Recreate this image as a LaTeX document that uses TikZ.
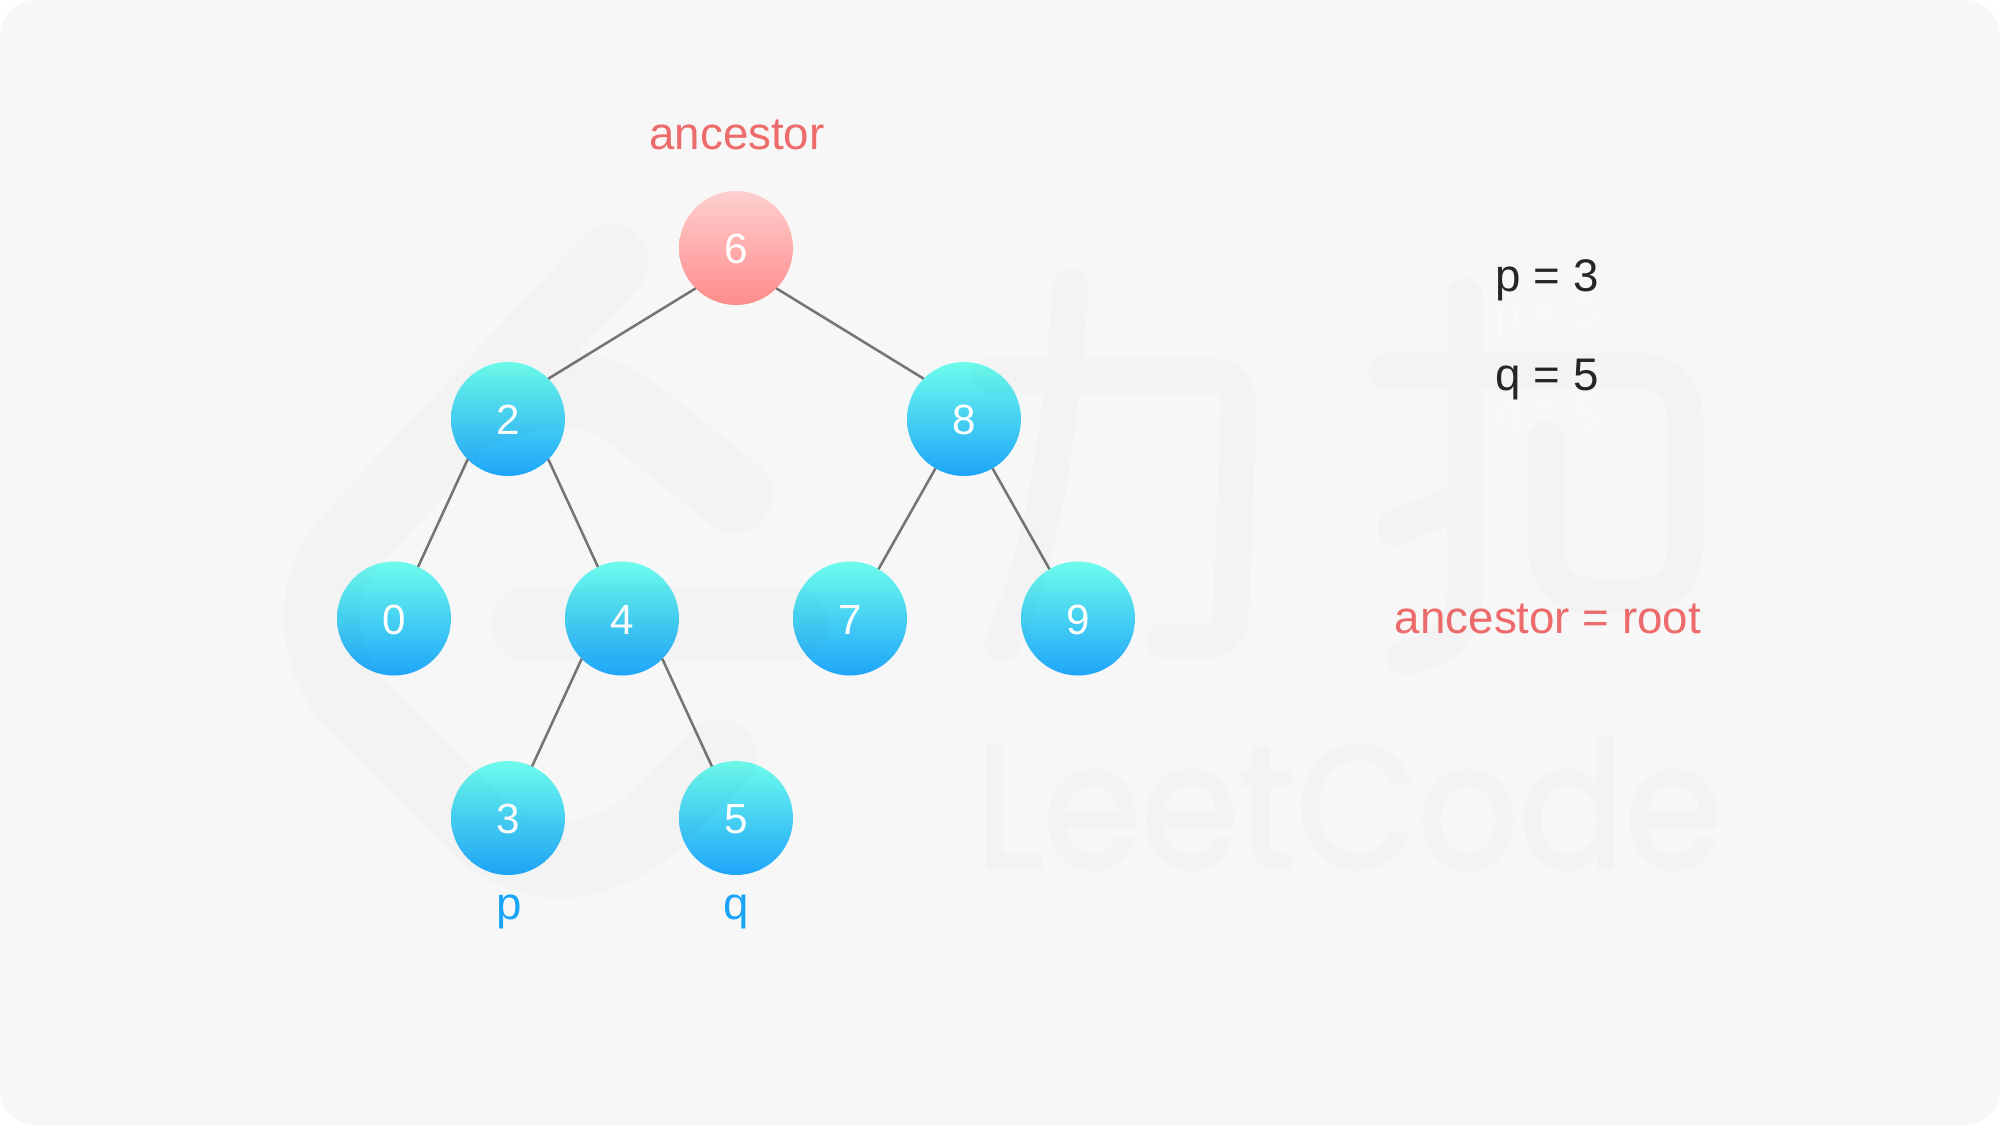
\documentclass[tikz,border=0pt]{standalone}
\usepackage{fontspec}
\setmainfont{Liberation Sans}
\newfontfamily\logofont[FakeBold=2]{Poppins}
\usepackage{tikz}
\usetikzlibrary{positioning}
\definecolor{panel}{HTML}{F7F7F7}
\definecolor{cyantop}{HTML}{6EFCEC}
\definecolor{cyanbot}{HTML}{1EA5FA}
\definecolor{redtop}{HTML}{FFCFCF}
\definecolor{redbot}{HTML}{FF8B8B}
\definecolor{salmon}{HTML}{EE6B6B}
\definecolor{skyblue}{HTML}{1BA5FA}
\definecolor{inkblack}{HTML}{262626}
\definecolor{linkgray}{HTML}{757575}
\tikzstyle{treenode} = [circle, minimum size=1.14cm, inner sep=0pt, outer sep=0pt, text=white, text height=9pt, text depth=0pt, font=\fontsize{12}{14}\selectfont]
\tikzstyle{bluenode} = [treenode, top color=cyantop, bottom color=cyanbot]
\tikzstyle{rednode} = [treenode, top color=redtop, bottom color=redbot]
\tikzstyle{link} = [draw=linkgray, line width=0.72pt]
\tikzstyle{caption} = [anchor=base, inner sep=0pt, font=\fontsize{13}{15}\selectfont]
\tikzstyle{wmark} = [draw=black, opacity=0.016, line cap=round, line join=round]

\begin{document}
\begin{tikzpicture}[node distance=1.995cm]

            \useasboundingbox (0,0) rectangle (20,-11.25);
            \fill [panel, rounded corners=0.35cm] (0,0) rectangle (20,-11.25);

            \node (root) [rednode] at (7.36,-2.48) {6};
            \node (left) [bluenode, below of=root, node distance=1.71cm, xshift=-2.28cm] {2};
            \node (right) [bluenode, below of=root, node distance=1.71cm, xshift=2.28cm] {8};
            \node (zero) [bluenode, below of=left, xshift=-1.14cm] {0};
            \node (four) [bluenode, below of=left, xshift=1.14cm] {4};
            \node (seven) [bluenode, below of=right, xshift=-1.14cm] {7};
            \node (nine) [bluenode, below of=right, xshift=1.14cm] {9};
            \node (three) [bluenode, below of=four, xshift=-1.14cm] {3};
            \node (five) [bluenode, below of=four, xshift=1.14cm] {5};

            \draw [link] (root.225) -- (left.45);
            \draw [link] (root.315) -- (right.135);
            \draw [link] (left.225) -- (zero.65);
            \draw [link] (left.315) -- (four.115);
            \draw [link] (right.240) -- (seven.60);
            \draw [link] (right.300) -- (nine.120);
            \draw [link] (four.225) -- (three.65);
            \draw [link] (four.315) -- (five.115);

            \node (ancestor) [caption, text=salmon] at (7.37,-1.49) {ancestor};
            \node (plabel) [caption, text=skyblue] at (5.09,-9.19) {p};
            \node (qlabel) [caption, text=skyblue] at (7.36,-9.19) {q};

            \node (pval) [caption, text=inkblack] at (15.47,-2.91) {p = 3};
            \node (pghost) [caption, text=white, text opacity=0.3] at (15.47,-3.28) {p = 3};
            \node (qval) [caption, text=inkblack] at (15.47,-3.90) {q = 5};
            \node (qghost) [caption, text=white, text opacity=0.3] at (15.47,-4.27) {q = 5};
            \node (assign) [caption, text=salmon] at (15.48,-6.33) {ancestor = root};

            % watermark
            \draw [wmark, line width=0.76cm] (6.11,-2.62) -- (3.56,-5.35)
                .. controls (3.30,-5.62) and (3.22,-5.90) .. (3.22,-6.18)
                .. controls (3.22,-6.50) and (3.35,-6.85) .. (3.56,-7.04) -- (4.75,-8.23)
                .. controls (5.02,-8.50) and (5.30,-8.60) .. (5.60,-8.60)
                .. controls (5.95,-8.60) and (6.25,-8.45) .. (6.50,-8.25) -- (7.19,-7.57)
                (7.35,-4.95) -- (6.30,-4.12)
                .. controls (6.00,-3.88) and (5.50,-3.78) .. (4.70,-4.13)
                (5.29,-6.24) -- (7.90,-6.24);
            \draw [wmark, line width=0.36cm] (9.90,-3.76) -- (12.10,-3.76)
                .. controls (12.29,-3.76) and (12.39,-3.86) .. (12.39,-4.05) -- (12.31,-6.12)
                .. controls (12.31,-6.31) and (12.21,-6.41) .. (12.02,-6.41) -- (11.65,-6.41)
                (10.71,-2.87) .. controls (10.60,-4.20) and (10.50,-5.30) .. (10.03,-6.43);
            \draw [wmark, line width=0.36cm] (14.65,-2.96) -- (14.65,-5.90)
                .. controls (14.65,-6.30) and (14.45,-6.50) .. (14.05,-6.57)
                (13.86,-3.71) -- (16.36,-3.71)
                .. controls (16.68,-3.71) and (16.85,-3.88) .. (16.85,-4.20) -- (16.85,-5.45)
                .. controls (16.85,-5.79) and (16.68,-5.96) .. (16.34,-5.96) -- (15.97,-5.96)
                .. controls (15.63,-5.96) and (15.46,-5.79) .. (15.46,-5.45) -- (15.46,-4.40)
                (13.95,-5.28) -- (14.63,-5.00);
            \begin{scope}[transparency group, opacity=0.016]
            \node (brand) [anchor=base, inner sep=0pt, text=black, xscale=0.90, transform shape, font=\logofont\fontsize{49.8}{55}\selectfont] at (13.49,-8.68) {LeetCode};
            \end{scope}

\end{tikzpicture}
\end{document}
